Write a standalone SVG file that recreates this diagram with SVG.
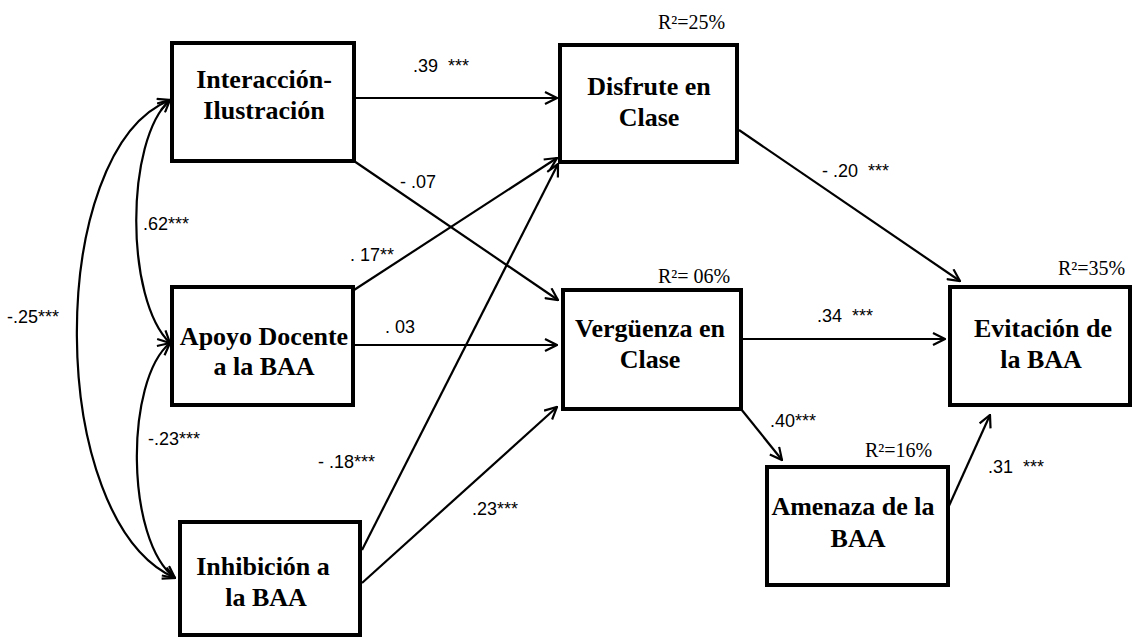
<svg xmlns="http://www.w3.org/2000/svg" width="1138" height="637" viewBox="0 0 1138 637">
<defs>
<style>
.box{fill:#fff;stroke:#000;stroke-width:4}
.nt{font-family:"Liberation Serif","DejaVu Serif",serif;font-weight:700;font-size:26px;fill:#000;text-anchor:middle}
.el{font-family:"Liberation Sans",Arial,sans-serif;font-size:18px;fill:#000;white-space:pre}
.r2{font-family:"Liberation Serif","DejaVu Serif",serif;font-size:20px;fill:#000;white-space:pre}
.c{fill:none;stroke:#000;stroke-width:2.2}
</style>
<marker id="ah" viewBox="0 0 14 14" refX="13" refY="7" markerWidth="14" markerHeight="14" markerUnits="userSpaceOnUse" orient="auto-start-reverse">
<path d="M1,1 L13,7 L1,13" fill="none" stroke="#000" stroke-width="2.2"/>
</marker>
</defs>
<rect width="1138" height="637" fill="#fff"/>
<g id="connectors">
<path class="c" d="M170,100 C125,140 125,300 170,343" marker-start="url(#ah)" marker-end="url(#ah)"/>
<path class="c" d="M170,343 C125,380 125,540 175,578" marker-start="url(#ah)" marker-end="url(#ah)"/>
<path class="c" d="M170,100 C45,150 45,520 175,578" marker-start="url(#ah)" marker-end="url(#ah)"/>
<line class="c" x1="354" y1="98" x2="557" y2="98" marker-end="url(#ah)"/>
<line class="c" x1="354" y1="161" x2="558" y2="300" marker-end="url(#ah)"/>
<line class="c" x1="354" y1="290" x2="557" y2="158" marker-end="url(#ah)"/>
<line class="c" x1="353" y1="345" x2="557" y2="345" marker-end="url(#ah)"/>
<line class="c" x1="362" y1="550" x2="558" y2="164" marker-end="url(#ah)"/>
<line class="c" x1="362" y1="583" x2="557" y2="407" marker-end="url(#ah)"/>
<line class="c" x1="739" y1="130" x2="960" y2="281" marker-end="url(#ah)"/>
<line class="c" x1="741" y1="339" x2="945" y2="339" marker-end="url(#ah)"/>
<line class="c" x1="741" y1="409" x2="782" y2="460" marker-end="url(#ah)"/>
<line class="c" x1="948" y1="508" x2="990" y2="415" marker-end="url(#ah)"/>
<text class="el" x="413" y="72">.39  ***</text>
<text class="el" x="400" y="188">- .07</text>
<text class="el" x="143" y="230">.62***</text>
<text class="el" x="350" y="261">. 17**</text>
<text class="el" x="7" y="323">-.25***</text>
<text class="el" x="385" y="333">. 03</text>
<text class="el" x="148" y="445">-.23***</text>
<text class="el" x="318" y="468">- .18***</text>
<text class="el" x="472" y="515">.23***</text>
<text class="el" x="822" y="177">- .20  ***</text>
<text class="el" x="817" y="322">.34  ***</text>
<text class="el" x="770" y="427">.40***</text>
<text class="el" x="988" y="473">.31  ***</text>
</g>
<g id="n1">
<rect class="box" x="172" y="43" width="182" height="118"/>
<text class="nt" x="264" y="88">Interacción-</text>
<text class="nt" x="264" y="119">Ilustración</text>
</g>
<g id="n2">
<rect class="box" x="172" y="287" width="181" height="118"/>
<text class="nt" x="264" y="345">Apoyo Docente</text>
<text class="nt" x="264" y="375">a la BAA</text>
</g>
<g id="n3">
<rect class="box" x="180" y="522" width="180" height="113"/>
<text class="nt" x="263" y="575">Inhibición a</text>
<text class="nt" x="266" y="606">la BAA</text>
</g>
<g id="n4">
<rect class="box" x="560" y="45" width="177" height="117"/>
<text class="nt" x="649" y="95">Disfrute en</text>
<text class="nt" x="649" y="126">Clase</text>
<text class="r2" x="658" y="29">R²=25%</text>
</g>
<g id="n5">
<rect class="box" x="563" y="290" width="178" height="119"/>
<text class="nt" x="650" y="337">Vergüenza en</text>
<text class="nt" x="650" y="368">Clase</text>
<text class="r2" x="658" y="283">R²= 06%</text>
</g>
<g id="n6">
<rect class="box" x="950" y="287" width="180" height="118"/>
<text class="nt" x="1043" y="337">Evitación de</text>
<text class="nt" x="1041" y="368">la BAA</text>
<text class="r2" x="1058" y="275">R²=35%</text>
</g>
<g id="n7">
<rect class="box" x="767" y="467" width="181" height="118"/>
<text class="nt" x="853" y="515">Amenaza de la</text>
<text class="nt" x="858" y="547">BAA</text>
<text class="r2" x="865" y="457">R²=16%</text>
</g>
</svg>
